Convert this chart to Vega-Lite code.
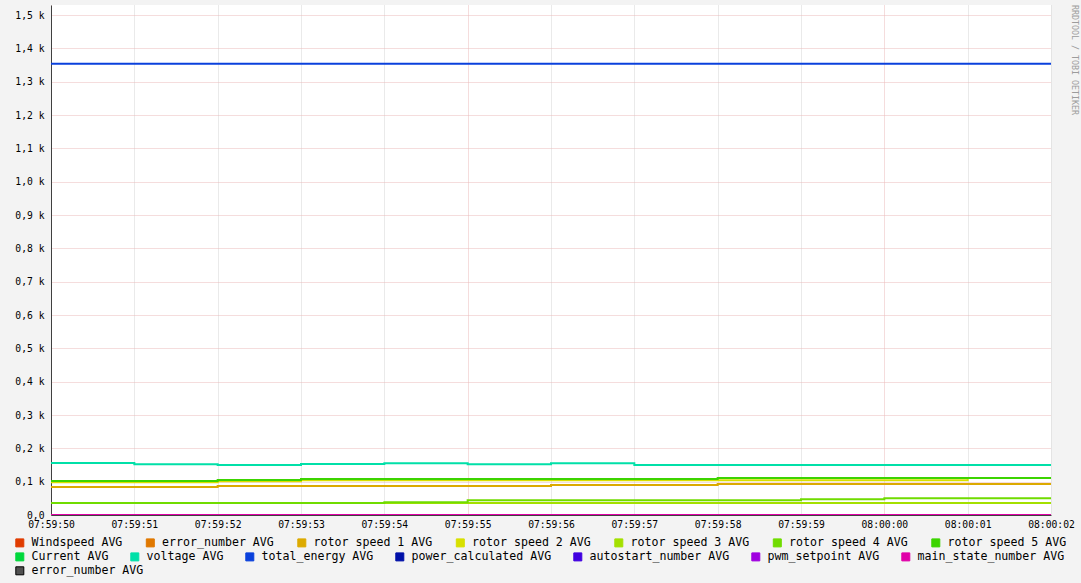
{
  "$schema": "https://vega.github.io/schema/vega-lite/v6.json",
  "width": 1000,
  "height": 510,
  "autosize": {"type": "none"},
  "padding": {"left": 51, "top": 5, "right": 30, "bottom": 68},
  "background": "#f3f3f3",
  "title": {"text": "RRDTOOL / TOBI OETIKER", "orient": "right", "anchor": "start", "frame": "group", "font": "DejaVu Sans Mono", "fontSize": 8.3, "fontWeight": "normal", "color": "#9c9c9c", "offset": -4},
  "config": {"view": {"stroke": null, "fill": "#ffffff"}},
  "data": {"values": [
    {"t": "2024-01-01T07:59:50Z", "s": "rotor speed 1 AVG", "v": 84},
    {"t": "2024-01-01T07:59:51Z", "s": "rotor speed 1 AVG", "v": 84},
    {"t": "2024-01-01T07:59:52Z", "s": "rotor speed 1 AVG", "v": 87},
    {"t": "2024-01-01T07:59:53Z", "s": "rotor speed 1 AVG", "v": 87},
    {"t": "2024-01-01T07:59:54Z", "s": "rotor speed 1 AVG", "v": 87},
    {"t": "2024-01-01T07:59:55Z", "s": "rotor speed 1 AVG", "v": 87},
    {"t": "2024-01-01T07:59:56Z", "s": "rotor speed 1 AVG", "v": 90},
    {"t": "2024-01-01T07:59:57Z", "s": "rotor speed 1 AVG", "v": 90},
    {"t": "2024-01-01T07:59:58Z", "s": "rotor speed 1 AVG", "v": 93},
    {"t": "2024-01-01T07:59:59Z", "s": "rotor speed 1 AVG", "v": 93},
    {"t": "2024-01-01T08:00:00Z", "s": "rotor speed 1 AVG", "v": 93},
    {"t": "2024-01-01T08:00:01Z", "s": "rotor speed 1 AVG", "v": 93},
    {"t": "2024-01-01T08:00:02Z", "s": "rotor speed 1 AVG", "v": 93},
    {"t": "2024-01-01T07:59:50Z", "s": "rotor speed 2 AVG", "v": 98},
    {"t": "2024-01-01T07:59:51Z", "s": "rotor speed 2 AVG", "v": 98},
    {"t": "2024-01-01T07:59:52Z", "s": "rotor speed 2 AVG", "v": 101},
    {"t": "2024-01-01T07:59:53Z", "s": "rotor speed 2 AVG", "v": 104},
    {"t": "2024-01-01T07:59:54Z", "s": "rotor speed 2 AVG", "v": 104},
    {"t": "2024-01-01T07:59:55Z", "s": "rotor speed 2 AVG", "v": 104},
    {"t": "2024-01-01T07:59:56Z", "s": "rotor speed 2 AVG", "v": 104},
    {"t": "2024-01-01T07:59:57Z", "s": "rotor speed 2 AVG", "v": 104},
    {"t": "2024-01-01T07:59:58Z", "s": "rotor speed 2 AVG", "v": 104},
    {"t": "2024-01-01T07:59:59Z", "s": "rotor speed 2 AVG", "v": 104},
    {"t": "2024-01-01T08:00:00Z", "s": "rotor speed 2 AVG", "v": 104},
    {"t": "2024-01-01T08:00:01Z", "s": "rotor speed 2 AVG", "v": 111},
    {"t": "2024-01-01T08:00:02Z", "s": "rotor speed 2 AVG", "v": 111},
    {"t": "2024-01-01T07:59:50Z", "s": "rotor speed 3 AVG", "v": 36},
    {"t": "2024-01-01T07:59:51Z", "s": "rotor speed 3 AVG", "v": 36},
    {"t": "2024-01-01T07:59:52Z", "s": "rotor speed 3 AVG", "v": 36},
    {"t": "2024-01-01T07:59:53Z", "s": "rotor speed 3 AVG", "v": 36},
    {"t": "2024-01-01T07:59:54Z", "s": "rotor speed 3 AVG", "v": 36},
    {"t": "2024-01-01T07:59:55Z", "s": "rotor speed 3 AVG", "v": 36},
    {"t": "2024-01-01T07:59:56Z", "s": "rotor speed 3 AVG", "v": 36},
    {"t": "2024-01-01T07:59:57Z", "s": "rotor speed 3 AVG", "v": 36},
    {"t": "2024-01-01T07:59:58Z", "s": "rotor speed 3 AVG", "v": 36},
    {"t": "2024-01-01T07:59:59Z", "s": "rotor speed 3 AVG", "v": 36},
    {"t": "2024-01-01T08:00:00Z", "s": "rotor speed 3 AVG", "v": 36},
    {"t": "2024-01-01T08:00:01Z", "s": "rotor speed 3 AVG", "v": 36},
    {"t": "2024-01-01T08:00:02Z", "s": "rotor speed 3 AVG", "v": 36},
    {"t": "2024-01-01T07:59:50Z", "s": "rotor speed 4 AVG", "v": 36},
    {"t": "2024-01-01T07:59:51Z", "s": "rotor speed 4 AVG", "v": 36},
    {"t": "2024-01-01T07:59:52Z", "s": "rotor speed 4 AVG", "v": 36},
    {"t": "2024-01-01T07:59:53Z", "s": "rotor speed 4 AVG", "v": 36},
    {"t": "2024-01-01T07:59:54Z", "s": "rotor speed 4 AVG", "v": 38},
    {"t": "2024-01-01T07:59:55Z", "s": "rotor speed 4 AVG", "v": 44},
    {"t": "2024-01-01T07:59:56Z", "s": "rotor speed 4 AVG", "v": 44},
    {"t": "2024-01-01T07:59:57Z", "s": "rotor speed 4 AVG", "v": 44},
    {"t": "2024-01-01T07:59:58Z", "s": "rotor speed 4 AVG", "v": 44},
    {"t": "2024-01-01T07:59:59Z", "s": "rotor speed 4 AVG", "v": 47},
    {"t": "2024-01-01T08:00:00Z", "s": "rotor speed 4 AVG", "v": 50},
    {"t": "2024-01-01T08:00:01Z", "s": "rotor speed 4 AVG", "v": 50},
    {"t": "2024-01-01T08:00:02Z", "s": "rotor speed 4 AVG", "v": 50},
    {"t": "2024-01-01T07:59:50Z", "s": "rotor speed 5 AVG", "v": 102},
    {"t": "2024-01-01T07:59:51Z", "s": "rotor speed 5 AVG", "v": 102},
    {"t": "2024-01-01T07:59:52Z", "s": "rotor speed 5 AVG", "v": 105},
    {"t": "2024-01-01T07:59:53Z", "s": "rotor speed 5 AVG", "v": 108},
    {"t": "2024-01-01T07:59:54Z", "s": "rotor speed 5 AVG", "v": 108},
    {"t": "2024-01-01T07:59:55Z", "s": "rotor speed 5 AVG", "v": 108},
    {"t": "2024-01-01T07:59:56Z", "s": "rotor speed 5 AVG", "v": 108},
    {"t": "2024-01-01T07:59:57Z", "s": "rotor speed 5 AVG", "v": 108},
    {"t": "2024-01-01T07:59:58Z", "s": "rotor speed 5 AVG", "v": 111},
    {"t": "2024-01-01T07:59:59Z", "s": "rotor speed 5 AVG", "v": 111},
    {"t": "2024-01-01T08:00:00Z", "s": "rotor speed 5 AVG", "v": 111},
    {"t": "2024-01-01T08:00:01Z", "s": "rotor speed 5 AVG", "v": 111},
    {"t": "2024-01-01T08:00:02Z", "s": "rotor speed 5 AVG", "v": 111},
    {"t": "2024-01-01T07:59:50Z", "s": "voltage AVG", "v": 156},
    {"t": "2024-01-01T07:59:51Z", "s": "voltage AVG", "v": 152},
    {"t": "2024-01-01T07:59:52Z", "s": "voltage AVG", "v": 150},
    {"t": "2024-01-01T07:59:53Z", "s": "voltage AVG", "v": 153},
    {"t": "2024-01-01T07:59:54Z", "s": "voltage AVG", "v": 155},
    {"t": "2024-01-01T07:59:55Z", "s": "voltage AVG", "v": 152},
    {"t": "2024-01-01T07:59:56Z", "s": "voltage AVG", "v": 155},
    {"t": "2024-01-01T07:59:57Z", "s": "voltage AVG", "v": 150},
    {"t": "2024-01-01T07:59:58Z", "s": "voltage AVG", "v": 150},
    {"t": "2024-01-01T07:59:59Z", "s": "voltage AVG", "v": 150},
    {"t": "2024-01-01T08:00:00Z", "s": "voltage AVG", "v": 150},
    {"t": "2024-01-01T08:00:01Z", "s": "voltage AVG", "v": 150},
    {"t": "2024-01-01T08:00:02Z", "s": "voltage AVG", "v": 150},
    {"t": "2024-01-01T07:59:50Z", "s": "total_energy AVG", "v": 1354},
    {"t": "2024-01-01T08:00:02Z", "s": "total_energy AVG", "v": 1354},
    {"t": "2024-01-01T07:59:50Z", "s": "main_state_number AVG", "v": 0},
    {"t": "2024-01-01T08:00:02Z", "s": "main_state_number AVG", "v": 0}
  ]},
  "encoding": {
    "x": {"field": "t", "type": "temporal", "scale": {"type": "utc", "nice": false},
      "axis": {"title": null, "format": "%H:%M:%S", "labelOverlap": false, "labelFlush": false, "labelBound": false, "ticks": false, "labelPadding": 4, "domainColor": "#404040", "domainWidth": 1, "grid": true, "gridDash": [1, 1], "gridWidth": 1,
        "gridColor": {"condition": {"test": "utcseconds(datum.value) % 5 === 0", "value": "#ebbaba"}, "value": "#d4d4d4"},
        "labelFont": "DejaVu Sans Mono", "labelFontSize": 9.7, "labelColor": "#000000",
        "values": [
          {"year": 2024, "month": 1, "date": 1, "hours": 7, "minutes": 59, "seconds": 50, "utc": true},
          {"year": 2024, "month": 1, "date": 1, "hours": 7, "minutes": 59, "seconds": 51, "utc": true},
          {"year": 2024, "month": 1, "date": 1, "hours": 7, "minutes": 59, "seconds": 52, "utc": true},
          {"year": 2024, "month": 1, "date": 1, "hours": 7, "minutes": 59, "seconds": 53, "utc": true},
          {"year": 2024, "month": 1, "date": 1, "hours": 7, "minutes": 59, "seconds": 54, "utc": true},
          {"year": 2024, "month": 1, "date": 1, "hours": 7, "minutes": 59, "seconds": 55, "utc": true},
          {"year": 2024, "month": 1, "date": 1, "hours": 7, "minutes": 59, "seconds": 56, "utc": true},
          {"year": 2024, "month": 1, "date": 1, "hours": 7, "minutes": 59, "seconds": 57, "utc": true},
          {"year": 2024, "month": 1, "date": 1, "hours": 7, "minutes": 59, "seconds": 58, "utc": true},
          {"year": 2024, "month": 1, "date": 1, "hours": 7, "minutes": 59, "seconds": 59, "utc": true},
          {"year": 2024, "month": 1, "date": 1, "hours": 8, "minutes": 0, "seconds": 0, "utc": true},
          {"year": 2024, "month": 1, "date": 1, "hours": 8, "minutes": 0, "seconds": 1, "utc": true},
          {"year": 2024, "month": 1, "date": 1, "hours": 8, "minutes": 0, "seconds": 2, "utc": true}
        ]}},
    "y": {"field": "v", "type": "quantitative", "scale": {"domain": [0, 1530], "nice": false},
      "axis": {"title": null, "values": [0, 100, 200, 300, 400, 500, 600, 700, 800, 900, 1000, 1100, 1200, 1300, 1400, 1500], "labelExpr": "datum.value == 0 ? '0,0' : replace(format(datum.value / 1000, '.1f'), '.', ',') + ' k'", "ticks": false, "labelPadding": 7, "domainColor": "#404040", "domainWidth": 1, "grid": true, "gridDash": [1, 1], "gridColor": "#ebbaba", "gridWidth": 1, "labelFont": "DejaVu Sans Mono", "labelFontSize": 9.7, "labelColor": "#000000"}}
  },
  "layer": [
    {
      "transform": [{"filter": {"field": "s", "oneOf": ["rotor speed 1 AVG", "rotor speed 2 AVG", "rotor speed 3 AVG", "rotor speed 4 AVG", "rotor speed 5 AVG"]}}],
      "mark": {"type": "line", "interpolate": "step-after", "strokeWidth": 2, "strokeCap": "butt", "clip": true},
      "encoding": {
        "color": {"field": "s", "type": "nominal",
          "scale": {
            "domain": ["Windspeed AVG", "error_number AVG", "rotor speed 1 AVG", "rotor speed 2 AVG", "rotor speed 3 AVG", "rotor speed 4 AVG", "rotor speed 5 AVG"],
            "range": ["#e03c00", "#e07800", "#dcaa00", "#d8e000", "#a4e000", "#70dc00", "#3cd400"]
          },
          "legend": {"orient": "none", "legendX": -37, "legendY": 532, "direction": "horizontal", "columns": 7, "columnPadding": 20.5, "title": null, "labelFont": "DejaVu Sans Mono", "labelFontSize": 11.6, "labelColor": "#000000", "labelOffset": 6, "labelLimit": 300, "symbolType": "square", "symbolSize": 64, "symbolStrokeWidth": 1, "symbolStrokeColor": "#000000",
            "encode": {"symbols": {"update": {"fill": {"scale": "color", "field": "value"}, "stroke": {"value": "#000000"}, "strokeWidth": {"value": 1}, "fillOpacity": {"value": 1}, "opacity": {"value": 1}}}}}
        }
      }
    },
    {
      "transform": [{"filter": {"field": "s", "oneOf": ["voltage AVG", "total_energy AVG", "main_state_number AVG"]}}],
      "mark": {"type": "line", "interpolate": "step-after", "strokeWidth": 2, "strokeCap": "butt", "clip": true},
      "encoding": {
        "stroke": {"field": "s", "type": "nominal",
          "scale": {
            "domain": ["Current AVG", "voltage AVG", "total_energy AVG", "power_calculated AVG", "autostart_number AVG", "pwm_setpoint AVG", "main_state_number AVG"],
            "range": ["#00d83c", "#00e0a8", "#0a40dc", "#0010a8", "#4000e0", "#a000e0", "#e000a8"]
          },
          "legend": {"orient": "none", "legendX": -37, "legendY": 546, "direction": "horizontal", "columns": 7, "columnPadding": 19, "title": null, "labelFont": "DejaVu Sans Mono", "labelFontSize": 11.6, "labelColor": "#000000", "labelOffset": 6, "labelLimit": 300, "symbolType": "square", "symbolSize": 64, "symbolStrokeWidth": 1, "symbolStrokeColor": "#000000",
            "encode": {"symbols": {"update": {"fill": {"scale": "stroke", "field": "value"}, "stroke": {"value": "#000000"}, "strokeWidth": {"value": 1}, "fillOpacity": {"value": 1}, "opacity": {"value": 1}}}}}
        }
      }
    },
    {
      "transform": [{"filter": {"field": "s", "oneOf": ["error_number AVG"]}}],
      "mark": {"type": "point", "shape": "square", "filled": true},
      "encoding": {
        "fill": {"field": "s", "type": "nominal",
          "scale": {"domain": ["error_number AVG"], "range": ["#505050"]},
          "legend": {"orient": "none", "legendX": -37, "legendY": 560, "direction": "horizontal", "title": null, "labelFont": "DejaVu Sans Mono", "labelFontSize": 11.6, "labelColor": "#000000", "labelOffset": 6, "labelLimit": 300, "symbolType": "square", "symbolSize": 64, "symbolStrokeWidth": 1, "symbolStrokeColor": "#000000", "symbolOpacity": 1}
        }
      }
    },
    {
      "data": {"values": [{}]},
      "mark": {"type": "point", "shape": "triangle-up", "filled": true, "color": "#7a1c1c", "size": 30, "opacity": 1, "clip": false},
      "encoding": {
        "x": {"datum": {"year": 2024, "month": 1, "date": 1, "hours": 7, "minutes": 59, "seconds": 50, "utc": true}, "type": "temporal"},
        "y": {"datum": 1513, "type": "quantitative"}
      }
    },
    {
      "data": {"values": [{}]},
      "mark": {"type": "point", "shape": "triangle-right", "filled": true, "color": "#7a1c1c", "size": 30, "opacity": 1, "xOffset": 5, "clip": false},
      "encoding": {
        "x": {"datum": {"year": 2024, "month": 1, "date": 1, "hours": 8, "minutes": 0, "seconds": 2, "utc": true}, "type": "temporal"},
        "y": {"datum": 0, "type": "quantitative"}
      }
    }
  ]
}
